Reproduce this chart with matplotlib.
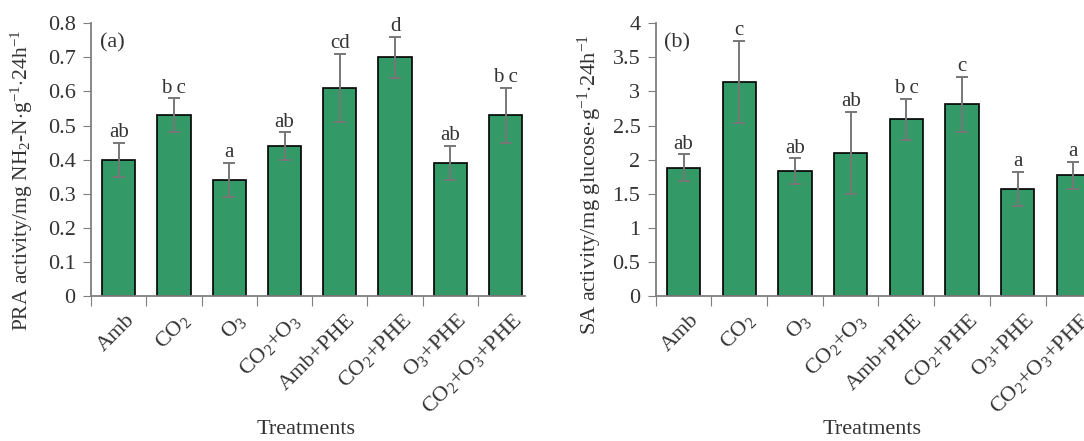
import matplotlib
matplotlib.use('Agg')
import matplotlib.pyplot as plt
import matplotlib.transforms as mtrans
import numpy as np

plt.rcParams['font.family'] = 'Liberation Serif'
plt.rcParams['mathtext.fontset'] = 'custom'
plt.rcParams['mathtext.rm'] = 'Liberation Serif'
plt.rcParams['mathtext.it'] = 'Liberation Serif:italic'

# treatments and measured values
treatments = ['Amb', 'CO$_2$', 'O$_3$', 'CO$_2$+O$_3$', 'Amb+PHE',
              'CO$_2$+PHE', 'O$_3$+PHE', 'CO$_2$+O$_3$+PHE']

pra = [0.40, 0.53, 0.34, 0.44, 0.61, 0.70, 0.39, 0.53]
pra_err = [0.05, 0.05, 0.05, 0.04, 0.10, 0.06, 0.05, 0.08]
pra_sig = ['ab', 'b c', 'a', 'ab', 'cd', 'd', 'ab', 'b c']

sa = [1.88, 3.14, 1.83, 2.10, 2.59, 2.81, 1.57, 1.77]
sa_err = [0.20, 0.60, 0.19, 0.60, 0.30, 0.40, 0.25, 0.20]
sa_sig = ['ab', 'c', 'ab', 'ab', 'b c', 'c', 'a', 'a']

pra_ticks = [0, 0.1, 0.2, 0.3, 0.4, 0.5, 0.6, 0.7, 0.8]
pra_ticklabels = ['0', '0.1', '0.2', '0.3', '0.4', '0.5', '0.6', '0.7', '0.8']
sa_ticks = [0, 0.5, 1, 1.5, 2, 2.5, 3, 3.5, 4]
sa_ticklabels = ['0', '0.5', '1', '1.5', '2', '2.5', '3', '3.5', '4']

green = '#339966'
txt = '#333333'
spine = '#7f7f7f'

fig = plt.figure(figsize=(10.84, 4.41), dpi=100)
ax1 = fig.add_axes([91/1084, 145/441, 434/1084, 272.7/441])
ax2 = fig.add_axes([655.7/1084, 145/441, 428.3/1084, 272.7/441])


def panel(ax, vals, errs, sig, ticks, ticklabels, ylab, ylab_size, tag, xmax, off):
    x = np.arange(len(vals))
    ax.bar(x, vals, width=0.6, color=green, edgecolor='black', linewidth=1.2, zorder=2)
    ax.errorbar(x, vals, yerr=errs, fmt='none', ecolor='#777777', elinewidth=1.4,
                capsize=4, capthick=1.4, zorder=3)
    for xi, v, e, s in zip(x, vals, errs, sig):
        ax.text(xi, v + e + off, s, ha='center', va='bottom', fontsize=15, color=txt)
    ax.set_xlim(-0.5, xmax)
    ax.set_ylim(0, ticks[-1])
    ax.set_yticks(ticks)
    ax.set_yticklabels(ticklabels, fontsize=16, color=txt)
    # ticks sit between the bars, names drawn as rotated texts under each bar
    ax.set_xticks(x - 0.5)
    ax.set_xticklabels([])
    trans = ax.get_xaxis_transform() + mtrans.ScaledTranslation(0.13, -0.215, fig.dpi_scale_trans)
    for xi, name in zip(x, treatments):
        ax.text(xi, 0, name, transform=trans, rotation=45, ha='right', va='center',
                rotation_mode='anchor', fontsize=16, color=txt, clip_on=False)
    ax.tick_params(axis='x', which='major', length=7, color=spine, direction='out')
    ax.tick_params(axis='y', length=6, color=spine, direction='out', pad=5)
    for s in ['top', 'right']:
        ax.spines[s].set_visible(False)
    for s in ['left', 'bottom']:
        ax.spines[s].set_color(spine)
        ax.spines[s].set_linewidth(1.3)
    ax.set_ylabel(ylab, fontsize=ylab_size, color=txt)
    ax.set_xlabel('Treatments', fontsize=16, color=txt)
    ax.text(0.02, 0.927, tag, transform=ax.transAxes, fontsize=16, color=txt,
            ha='left', va='center')


panel(ax1, pra, pra_err, pra_sig, pra_ticks, pra_ticklabels,
      'PRA activity/mg NH$_2$-N$\\cdot$g$^{-1}$$\\cdot$24h$^{-1}$', 15.5, '(a)', 7.35, 0.002)
panel(ax2, sa, sa_err, sa_sig, sa_ticks, sa_ticklabels,
      'SA activity/mg glucose$\\cdot$g$^{-1}$$\\cdot$24h$^{-1}$', 16, '(b)', 7.19, 0.01)

ax1.yaxis.set_label_coords(-0.128, 0.425)
ax2.yaxis.set_label_coords(-0.12, 0.407)
ax1.xaxis.set_label_coords(0.495, -0.455)
ax2.xaxis.set_label_coords(0.505, -0.455)

fig.savefig('out.png', dpi=100)
